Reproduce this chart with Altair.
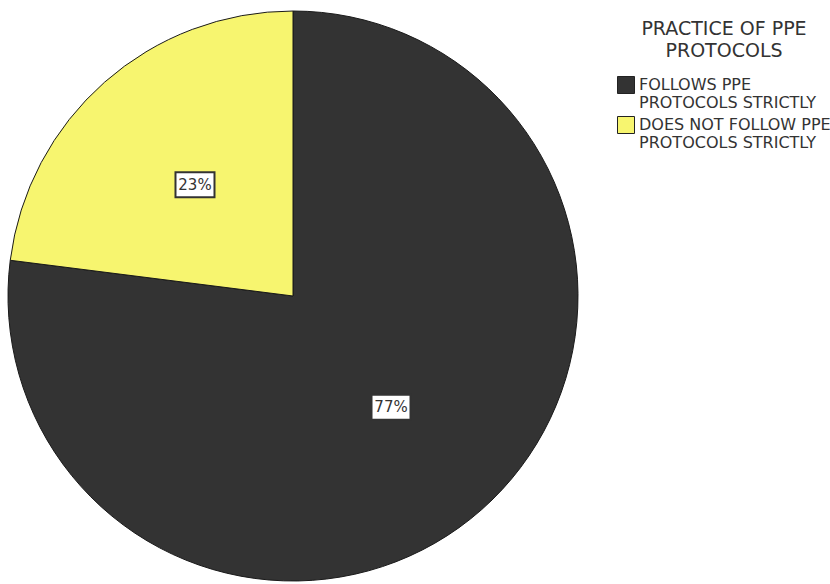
import altair as alt
import pandas as pd

categories = ["FOLLOWS PPE\nPROTOCOLS STRICTLY", "DOES NOT FOLLOW PPE\nPROTOCOLS STRICTLY"]
percents = [77, 23]
orders = [0, 1]
colors = ["#333333", "#f7f56f"]

df = pd.DataFrame({"category": categories, "percent": percents, "order": orders})

CX, CY, R = 293, 296, 285
LABEL_R = 0.52

color_scale = alt.Scale(domain=categories, range=colors)

legend = alt.Legend(
    title=["PRACTICE OF PPE", "PROTOCOLS"],
    orient="none", legendX=617, legendY=20,
    titleFont="DejaVu Sans", titleFontSize=19, titleFontWeight="normal",
    titleColor="#333333", titleAnchor="middle", titleAlign="center",
    titleLineHeight=22, titlePadding=15, titleLimit=400,
    labelFont="DejaVu Sans", labelFontSize=16, labelColor="#333333",
    labelExpr="split(datum.label, '\\n')", labelLimit=300, labelOffset=4,
    symbolType="square", symbolSize=289, symbolStrokeColor="#222222",
    symbolStrokeWidth=1, symbolOpacity=1, rowPadding=3,
)

pie = alt.Chart(df).mark_arc(stroke="#1a1a1a", strokeWidth=1, radius=R).encode(
    theta=alt.Theta("percent:Q", stack=True),
    order=alt.Order("order:Q"),
    color=alt.Color("category:N", scale=color_scale, legend=legend),
    x=alt.value(CX),
    y=alt.value(CY),
)

labels_base = alt.Chart(df).transform_window(
    cum="sum(percent)", sort=[alt.SortField("order")], frame=[None, 0]
).transform_joinaggregate(
    total="sum(percent)"
).transform_calculate(
    mid="2*PI*(datum.cum - datum.percent/2)/datum.total",
    lx=f"sin(datum.mid)*{LABEL_R}",
    ly=f"cos(datum.mid)*{LABEL_R}",
    label="datum.percent + '%'",
)

xs = alt.Scale(domain=[-1, 1], range=[CX - R, CX + R], nice=False)
ys = alt.Scale(domain=[-1, 1], range=[CY + R, CY - R], nice=False)

box = labels_base.mark_point(
    shape="M-1.56,-1L1.56,-1L1.56,1L-1.56,1Z", size=625, filled=True,
    fill="white", stroke="#333333", strokeWidth=2, opacity=1,
).encode(
    x=alt.X("lx:Q", scale=xs, axis=None),
    y=alt.Y("ly:Q", scale=ys, axis=None),
)

text = labels_base.mark_text(font="DejaVu Sans", fontSize=15, color="#333333").encode(
    x=alt.X("lx:Q", scale=xs, axis=None),
    y=alt.Y("ly:Q", scale=ys, axis=None),
    text="label:N",
)

chart = alt.layer(pie, box, text).resolve_scale(x="shared", y="shared").properties(
    width=830, height=584, padding=0,
    autosize=alt.AutoSizeParams(type="none"),
    background="white",
).configure_view(stroke=None)

chart.save("out.html", embed_options={"renderer": "svg", "actions": False})
